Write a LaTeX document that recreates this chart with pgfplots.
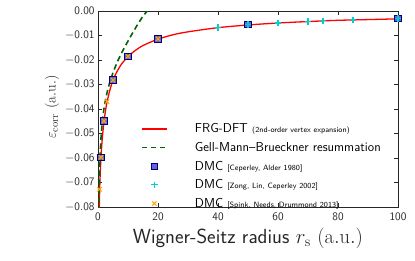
\documentclass[border=0pt]{standalone}
\usepackage{fontspec}
\usepackage{pgfplots}
\pgfplotsset{compat=1.18}
\renewcommand{\familydefault}{\sfdefault}
\definecolor{mynavy}{RGB}{0,0,128}
\definecolor{mysqfill}{RGB}{100,100,210}
\definecolor{mycyan}{RGB}{0,206,209}
\definecolor{myorange}{RGB}{255,165,0}
\definecolor{mygreen}{RGB}{0,100,0}
\definecolor{myred}{RGB}{255,0,0}
\newcommand{\lstrut}{\rule[-3bp]{0pt}{12bp}}
\pgfplotsset{
  marklegend/.style={legend image code/.code={\path[draw=none,fill=none] (0bp,0bp) -- (51bp,0bp); \draw plot[only marks] coordinates {(12.5bp,0bp)};}},
}
\begin{document}
\begin{tikzpicture}
\useasboundingbox (-98bp,-54bp) rectangle (317bp,207bp);
\begin{axis}[
  at={(0,0)}, anchor=south west,
  scale only axis, width=300bp, height=196bp,
  xmin=0, xmax=100, ymin=-0.08, ymax=0,
  xtick={0,20,40,60,80,100},
  ytick={-0.08,-0.07,-0.06,-0.05,-0.04,-0.03,-0.02,-0.01,0},
  yticklabels={$\mathsf{-0.08}$,$\mathsf{-0.07}$,$\mathsf{-0.06}$,$\mathsf{-0.05}$,$\mathsf{-0.04}$,$\mathsf{-0.03}$,$\mathsf{-0.02}$,$\mathsf{-0.01}$,$\mathsf{0.00}$},
  xticklabels={0,20,40,60,80,100},
  scaled y ticks=false,
  tick align=inside,
  major tick length=4bp,
  tick style={black!85, line width=0.6pt},
  axis line style={black!85, line width=0.8pt},
  ticklabel style={font=\fontsize{11.5}{13}\selectfont, text=black!85},
  xticklabel style={yshift=-2bp},
  xlabel={Wigner-Seitz radius $r_{\mathrm{s}}\ \mathrm{(a.u.)}$},
  xlabel style={font=\fontsize{20.5}{24}\selectfont, text=black!85, yshift=-1bp},
  ylabel={$\varepsilon_{\mathrm{corr}}\ \mathrm{(a.u.)}$},
  ylabel style={font=\fontsize{15}{17}\selectfont, text=black!85, yshift=-1bp, xshift=2bp},
  legend cell align=left,
  legend style={draw=none, fill=none, at={(0.143,0.436)}, anchor=north west,
    font=\fontsize{13}{15}\selectfont, row sep=4bp, inner sep=0pt},
  clip=true,
]
% FRG-DFT
\addplot[color=myred, line width=1.3pt, no markers, smooth, forget plot] coordinates {
(0.35,-0.0860) (0.4,-0.0819) (0.5,-0.0761) (0.6,-0.0715) (0.7,-0.0677) (0.8,-0.0646)
(1,-0.0596) (1.25,-0.0549) (1.5,-0.0510) (2,-0.0451) (2.5,-0.0407) (3,-0.0372)
(4,-0.0321) (5,-0.0283) (6,-0.0255) (7,-0.0233) (8,-0.0214) (10,-0.0186)
(12,-0.0165) (15,-0.0141) (20,-0.0115) (25,-0.0097) (30,-0.0085) (40,-0.0068)
(50,-0.0057) (60,-0.0049) (70,-0.0043) (80,-0.0038) (90,-0.0035) (100,-0.0032)
};
% Gell-Mann--Brueckner
\addplot[color=mygreen, line width=1.6pt, dash pattern=on 5.5bp off 3.5bp, no markers, smooth, forget plot] coordinates {
(0.2,-0.0820) (0.3,-0.0745) (0.5,-0.0665) (0.75,-0.0580) (1,-0.0520) (1.5,-0.0445)
(2,-0.0398) (2.5,-0.0364) (3,-0.0334) (4,-0.0288) (5,-0.0252) (6,-0.0221)
(7,-0.0193) (8,-0.0168) (9,-0.0145) (10,-0.0123) (11,-0.0101) (12,-0.0080)
(13,-0.0059) (14,-0.0040) (15,-0.0021) (16.4,0.0000)
};
\addlegendimage{legend image code/.code={\path[draw=none,fill=none] (0bp,0bp) -- (51bp,0bp); \draw[draw=myred, line width=1.3pt] (0bp,0bp) -- (25bp,0bp);}}
\addlegendentry{\lstrut FRG-DFT {\fontsize{7.7}{8}\selectfont (2nd-order vertex expansion)}}
\addlegendimage{legend image code/.code={\path[draw=none,fill=none] (0bp,0bp) -- (51bp,0bp); \draw[draw=mygreen, line width=1.6pt, dash pattern=on 5.5bp off 3.5bp] (0bp,0bp) -- (25bp,0bp);}}
\addlegendentry{\lstrut Gell-Mann--Brueckner resummation}
% Ceperley Alder
\addplot[only marks, mark=square*, mark size=3.2bp, mynavy, line width=1.1pt,
  mark options={fill=mysqfill, draw=mynavy}, marklegend] coordinates {
(1,-0.0598) (2,-0.0449) (5,-0.0282) (10,-0.0185) (20,-0.0114) (50,-0.0056) (100,-0.0031)
};
\addlegendentry{\lstrut DMC {\fontsize{7.7}{8}\selectfont [Ceperley, Alder 1980]}}
% Zong
\addplot[only marks, mark=+, mark size=3.3bp, mycyan, line width=1.2pt, marklegend] coordinates {
(40,-0.0068) (50,-0.0056) (60,-0.0049) (70,-0.0043) (75,-0.0040) (85,-0.0036) (100,-0.0031)
};
\addlegendentry{\lstrut DMC {\fontsize{7.7}{8}\selectfont [Zong, Lin, Ceperley 2002]}}
% Spink
\addplot[only marks, mark=x, mark size=3bp, myorange, line width=1.1pt, marklegend] coordinates {
(0.5,-0.0728) (1,-0.0597) (2,-0.0449) (3,-0.0370) (5,-0.0282) (10,-0.0185) (20,-0.0114)
};
\addlegendentry{\lstrut DMC {\fontsize{7.7}{8}\selectfont [Spink, Needs, Drummond 2013]}}
\end{axis}
\end{tikzpicture}
\end{document}
